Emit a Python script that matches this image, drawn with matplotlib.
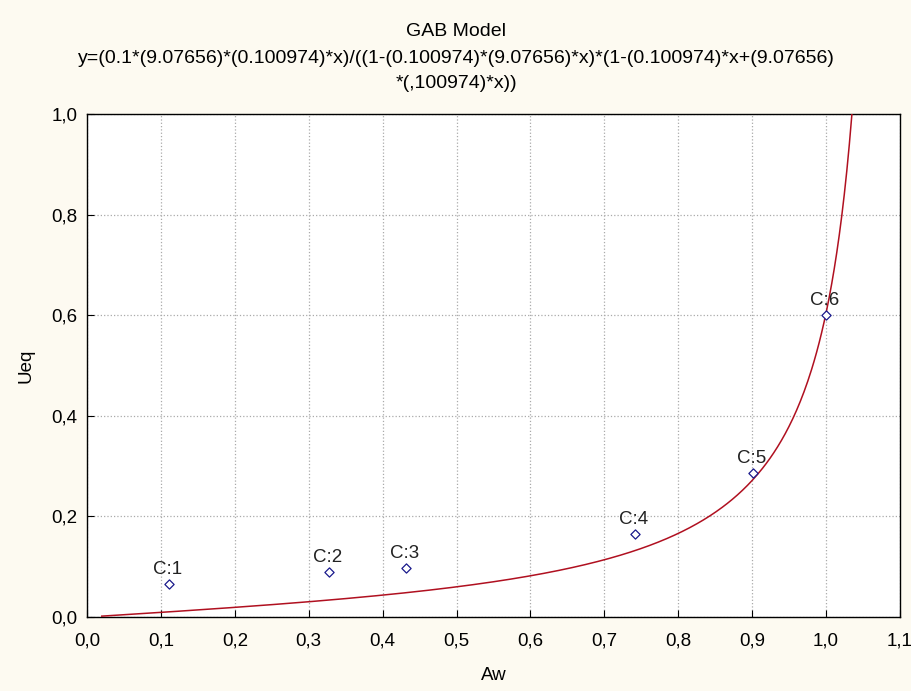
import numpy as np
import matplotlib.pyplot as plt

plt.rcParams['font.family'] = ['Liberation Sans', 'DejaVu Sans']

# GAB model parameters (from title)
xm = 0.1
c = 9.07656
k = 0.100974

# observed points
aw = [0.111, 0.328, 0.432, 0.742, 0.901, 1.0]
ueq = [0.065, 0.090, 0.098, 0.165, 0.287, 0.601]
labels = ['C:1', 'C:2', 'C:3', 'C:4', 'C:5', 'C:6']

xticks = [0.0, 0.1, 0.2, 0.3, 0.4, 0.5, 0.6, 0.7, 0.8, 0.9, 1.0, 1.1]
yticks = [0.0, 0.2, 0.4, 0.6, 0.8, 1.0]


def gab(x):
    return (xm * c * k * x) / ((1 - k * c * x) * (1 - k * x + c * k * x))


bg = '#fdfaf1'
fs = 13.5
fig = plt.figure(figsize=(9.12, 6.91), dpi=100, facecolor=bg)
ax = fig.add_axes([0.0954, 0.107, 0.8914, 0.728])
ax.set_facecolor('white')

xs = np.linspace(0.02, 1.04, 600)
ys = gab(xs)
ax.plot(xs, ys, color='#b01020', lw=1.1, zorder=3)

ax.scatter(aw, ueq, marker='D', s=22, facecolors='white', edgecolors='#1a1a8c',
           linewidths=0.9, zorder=4)
for x, y, t in zip(aw, ueq, labels):
    ax.annotate(t, (x, y), xytext=(-1, 10.5), textcoords='offset points',
                ha='center', va='center', fontsize=fs, color='#222222', zorder=5)

ax.set_xlim(0.0, 1.1)
ax.set_ylim(0.0, 1.0)
ax.set_xticks(xticks)
ax.set_yticks(yticks)
ax.set_xticklabels([f'{v:.1f}'.replace('.', ',') for v in xticks])
ax.set_yticklabels([f'{v:.1f}'.replace('.', ',') for v in yticks])
ax.tick_params(direction='in', length=5, labelsize=fs, color='black')
ax.tick_params(axis='x', pad=11)
ax.tick_params(axis='y', pad=7)
ax.grid(True, color='#aaaaaa', linestyle=':', linewidth=0.9)
for s in ax.spines.values():
    s.set_color('black')
    s.set_linewidth(1.0)

ax.set_xlabel('Aw', fontsize=fs, labelpad=13)
ax.set_ylabel('Ueq', fontsize=fs, labelpad=12)

fig.text(0.5, 0.954, 'GAB Model', ha='center', va='center', fontsize=14)
fig.text(0.5, 0.915,
         'y=(0.1*(9.07656)*(0.100974)*x)/((1-(0.100974)*(9.07656)*x)*(1-(0.100974)*x+(9.07656)',
         ha='center', va='center', fontsize=14)
fig.text(0.5, 0.879, '*(,100974)*x))', ha='center', va='center', fontsize=14)

fig.savefig('out.png', dpi=100, facecolor=bg)
